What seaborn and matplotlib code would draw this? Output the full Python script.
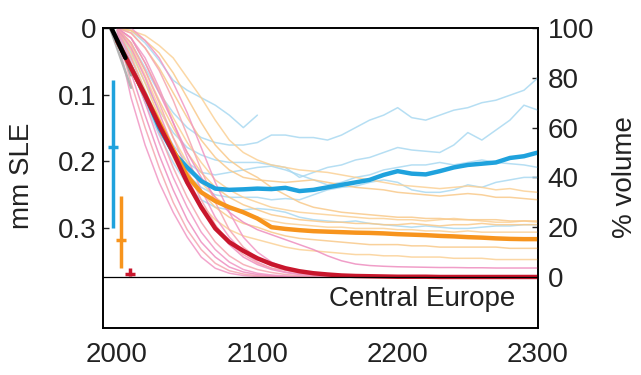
import numpy as np
import pandas as pd
import matplotlib
matplotlib.use('Agg')
import matplotlib.pyplot as plt
import seaborn as sns

# time axis (10-year steps) for the model curves
years = list(range(2000, 2301, 10))

# observed / historical part
black_years = [1996, 2001, 2006]
black_vals = [100, 94, 88]
gray_years = [1995, 2000, 2005, 2010]
gray_a = [100, 92, 84, 76]
gray_b = [100, 95, 89, 81]

# thick ensemble curves (% volume)
red_thick = [95, 84, 73, 61, 50, 38, 28, 19.5, 14, 10.5, 7.5, 5.2, 3.5, 2.3, 1.5, 1.0,
             0.6, 0.4, 0.3, 0.2, 0.1, 0.1, 0.1, 0, 0, 0, 0, 0, 0, 0, 0]
orange_thick = [95, 84, 73, 62, 51, 40.5, 34, 30.5, 28, 26, 23.5, 20, 19.3, 18.8, 18.4, 18.2,
                18, 17.8, 17.7, 17.5, 17.2, 17, 16.8, 16.5, 16.3, 16, 15.8, 15.5, 15.3, 15.2, 15.2]
blue_thick = [95, 84, 73, 60, 50, 44, 38.5, 35.5, 35, 35.2, 35.5, 35.3, 35.8, 34.5, 35, 36,
              37, 38, 39, 41, 42.5, 41.5, 41.2, 42.5, 44, 45, 45.5, 46, 47.8, 48.5, 50]

# individual models, RCP2.6 (light blue)
b1 = [100, 99, 94, 87, 79, 75, 72, 69, 65, 60, 65]
b2 = [100, 94, 84, 74, 66, 60, 56, 54, 53, 53, 54, 57, 57, 56, 56, 55, 57, 60, 63, 65, 68,
      64, 63, 65, 67, 68, 70, 71, 73, 75, 80]
b3 = [100, 90, 78, 67, 58, 52, 49, 47, 46, 46, 46, 45, 44, 40, 42, 44, 45, 47, 48, 50, 52,
      51, 50.5, 50, 53, 58, 55, 59, 63, 69, 67]
b4 = [100, 88, 75, 63, 53, 46, 42, 41, 42, 43, 44, 44.5, 43, 41, 39, 37, 38, 40, 41, 43, 44,
      45, 45, 46, 45, 46, 47, 46, 45.5, 45, 44]
b5 = [99, 86, 72, 60, 49, 41, 36, 33, 32, 32, 32, 31, 31.5, 31, 33, 35, 36, 36.5, 38, 39, 38,
      35, 34, 34, 35, 37, 36, 38, 39, 40, 40]
b6 = [98, 84, 70, 57, 46, 37, 31, 28, 27, 27, 27.5, 27, 26, 24, 23, 22.5, 22, 22.5, 21.5, 21,
      20.5, 20, 20.5, 20, 19.5, 19.5, 20, 20.5, 20.5, 21, 21]

# individual models, RCP4.5 (light orange)
o1 = [100, 99, 97, 93, 88, 80, 72, 63, 55, 50, 47, 45, 44, 43, 42.5, 42, 41, 40, 39, 38, 37,
      36.5, 36, 35.5, 36, 36.5, 36, 35, 35.5, 34.5, 34]
o2 = [100, 98, 92, 84, 74, 64, 55, 48, 43, 40, 39, 38.5, 38, 38.5, 39, 38, 37, 36, 35.5, 35,
      34, 33.5, 33, 32.5, 33, 33.5, 33, 32, 32, 31.5, 31]
o3 = [100, 96, 86, 75, 64, 54, 46, 39, 35, 32, 30, 28, 27, 26, 25.5, 25, 24.5, 24, 23.5, 23.5,
      23, 23, 22.5, 23, 23.5, 23, 22.5, 22, 22, 22.5, 22]
o4 = [100, 94, 83, 71, 60, 50, 42, 36, 32, 29, 27, 25, 24, 23, 22.5, 22, 22, 21.5, 21.5, 21,
      21, 21.5, 21, 20.5, 21, 21, 21.5, 21, 21, 21, 21]
o5 = [100, 93, 81, 68, 56, 46, 38, 32, 28, 25.5, 24, 22.5, 21.5, 21, 20.5, 20, 20, 19.5, 19.5,
      19.5, 19, 19, 18.5, 18.5, 18, 18.5, 18, 18, 18, 18, 18]
o6 = [100, 91, 78, 64, 52, 42, 34, 28, 24, 21.5, 20, 18, 16.5, 15.5, 15, 14.5, 14, 13.5, 13,
      13, 13, 12.5, 12.5, 12, 12, 12, 12, 12, 11.5, 11.5, 11.5]
o7 = [99, 89, 75, 61, 48, 37, 29, 23, 19, 16.5, 15, 13.5, 12, 11, 10.5, 10, 9.5, 9, 9, 8.5,
      8.5, 8, 8, 8, 7.5, 7.5, 7.5, 7, 7, 7, 7]
o8 = [100, 99, 95, 90, 82, 72, 62, 53, 47, 43, 40, 36, 33, 30, 28, 27, 26, 25.5, 25, 24.5, 24,
      24, 23.5, 23.5, 23, 23, 23, 23, 22.5, 22.5, 22.5]

# individual models, RCP8.5 (pink), 2000-2200 (p9 to 2300)
p1 = [97, 72, 53, 38, 26, 16, 8, 3.5, 1.5, 0.6, 0.2, 0.1, 0, 0, 0, 0, 0, 0, 0, 0, 0]
p2 = [98, 78, 60, 44, 30, 19, 11, 5.5, 2.5, 1.2, 0.5, 0.2, 0.1, 0, 0, 0, 0, 0, 0, 0, 0]
p3 = [99, 82, 65, 49, 35, 23, 14, 8, 4, 2, 1, 0.5, 0.2, 0.1, 0, 0, 0, 0, 0, 0, 0]
p4 = [100, 86, 70, 54, 40, 28, 18, 11, 6, 3, 1.5, 0.8, 0.4, 0.2, 0.1, 0, 0, 0, 0, 0, 0]
p5 = [100, 88, 74, 58, 44, 32, 22, 14, 8.5, 5, 3, 1.8, 1, 0.5, 0.3, 0.1, 0, 0, 0, 0, 0]
p6 = [100, 92, 80, 66, 52, 40, 29, 20, 13, 8, 5, 3, 1.8, 1, 0.6, 0.3, 0.1, 0, 0, 0, 0]
p7 = [100, 96, 88, 76, 62, 48, 35, 24, 16, 10, 6, 3.5, 2, 1.2, 0.7, 0.4, 0.2, 0, 0, 0, 0]
p8 = [100, 98, 92, 83, 71, 57, 43, 30, 19, 12, 7.5, 4.5, 2.8, 1.6, 0.9, 0.4, 0.2, 0, 0, 0, 0]
p9 = [100, 96, 86, 74, 62, 50, 40, 32, 26, 22, 19, 17, 15, 13, 11, 8.5, 6.5, 5.2, 4.6, 4.3,
      4.1, 4, 3.9, 3.8, 3.8, 3.7, 3.7, 3.6, 3.6, 3.6, 3.6]
p10 = [100, 100, 95, 88, 78, 66, 52, 38, 26, 16, 10, 6, 3.5, 2, 1, 0.5, 0.2, 0, 0, 0, 0]
p11 = [100, 94, 83, 70, 56, 43, 31, 21, 13.6, 9, 5.6, 3.5, 2.8, 1.8, 1, 0.5, 0.2, 0, 0, 0, 0]

# uncertainty bars (mm SLE)
err_years = [1997, 2003, 2009]
err_mid = [0.178, 0.318, 0.369]
err_lo = [0.078, 0.252, 0.360]
err_hi = [0.300, 0.360, 0.373]
err_colors = ['#1fa2dd', '#f7941d', '#c8162c']

blue_thin = [b1, b2, b3, b4, b5, b6]
orange_thin = [o1, o2, o3, o4, o5, o6, o7, o8]
pink_thin = [p1, p2, p3, p4, p5, p6, p7, p8, p9, p10, p11]

rows = []
colors = {}
for fam, group, cols in [('b', blue_thin, ['#a9d9f1']),
                         ('o', orange_thin, ['#fbd196', '#f9c98a']),
                         ('p', pink_thin, ['#f196c4', '#f5a5b0', '#ee8dbf'])]:
    for i, vals in enumerate(group):
        name = f'{fam}{i}'
        colors[name] = cols[i % len(cols)]
        for yr, v in zip(years, vals):
            rows.append({'model': name, 'year': yr, 'pct': v})
df_thin = pd.DataFrame(rows)

sns.set_style('white')
plt.rcParams['font.family'] = ['Liberation Sans', 'DejaVu Sans']
FS = 20

fig = plt.figure(figsize=(6.41, 3.75), dpi=100)
ax = fig.add_axes([0.1607, 0.1253, 0.6786, 0.8])
ax2 = ax.twinx()

ax.set_xlim(1990, 2300)
ax.set_ylim(0.4505, 0)
ax2.set_ylim(-20.5, 100)

# model spaghetti
sns.lineplot(data=df_thin, x='year', y='pct', units='model', estimator=None,
             hue='model', palette=colors, hue_order=list(colors.keys()),
             lw=1.1, alpha=0.85, legend=False, ax=ax2)

# historical spread
sns.lineplot(x=gray_years, y=gray_a, color='#b5b5b5', lw=1.8, ax=ax2)
sns.lineplot(x=gray_years, y=gray_b, color='#a0a0a0', lw=1.8, ax=ax2)

# ensemble curves
sns.lineplot(x=years, y=blue_thick, color='#1fa2dd', lw=3.2, ax=ax2)
sns.lineplot(x=years, y=orange_thick, color='#f7941d', lw=3.2, ax=ax2)
sns.lineplot(x=years, y=red_thick, color='#c8162c', lw=3.2, ax=ax2)
sns.lineplot(x=black_years, y=black_vals, color='black', lw=3.2, ax=ax2)

ax2.axhline(0, color='black', lw=0.9)

# error bars on the mm SLE axis
for yr, mid, lo, hi, c in zip(err_years, err_mid, err_lo, err_hi, err_colors):
    ax.errorbar([yr], [mid], yerr=[[mid - lo], [hi - mid]], fmt='_', color=c,
                ecolor=c, elinewidth=2.5, markersize=7, markeredgewidth=2.5, capsize=0)

ax2.text(2284, -8.8, 'Central Europe', ha='right', va='center', fontsize=FS, color='#222222')

# axes cosmetics
ax.set_xticks([2000, 2100, 2200, 2300])
ax.set_yticks([0, 0.1, 0.2, 0.3])
ax.set_yticklabels(['0', '0.1', '0.2', '0.3'])
ax2.set_yticks([0, 20, 40, 60, 80, 100])
ax.tick_params(axis='both', direction='in', length=4, width=1, labelsize=FS,
               labelcolor='#222222', pad=5)
ax.tick_params(axis='x', pad=10)
ax2.tick_params(axis='y', direction='in', length=4, width=1, labelsize=FS,
                labelcolor='#222222', pad=7)
ax.tick_params(axis='x', top=False)

ax.set_xlabel('')
ax2.set_xlabel('')
ax.set_ylabel('mm SLE', fontsize=FS, color='#222222', va='center')
ax.yaxis.set_label_coords(-0.186, 0.507)
ax2.set_ylabel('% volume', fontsize=FS, color='#222222', va='center', rotation=90)
ax2.yaxis.set_label_coords(1.2, 0.503)

for a in (ax, ax2):
    for s in a.spines.values():
        s.set_color('black')
        s.set_linewidth(1.2)

fig.savefig('out.png', dpi=100)
